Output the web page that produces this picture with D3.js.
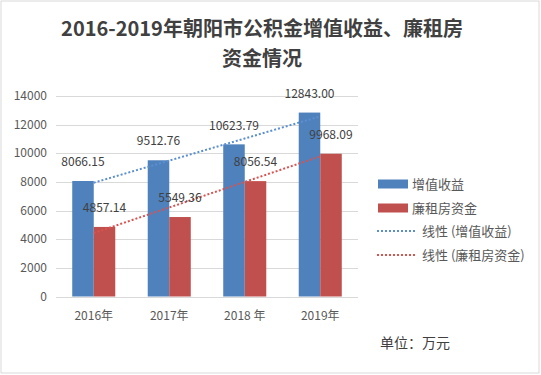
<!DOCTYPE html>
<html>
<head>
<meta charset="utf-8">
<script src="https://cdn.jsdelivr.net/npm/d3@7"></script>
<style>
  body { margin: 0; background: #fff; }
  svg text { font-family: "Noto Sans CJK SC", "Liberation Sans", sans-serif; }
</style>
</head>
<body>
<div id="chart"></div>
<script>
// data
const years = ["2016年", "2017年", "2018 年", "2019年"];
const seriesNames = ["增值收益", "廉租房资金"];
const gainValues = [8066.15, 9512.76, 10623.79, 12843.00];
const rentValues = [4857.14, 5549.36, 8056.54, 9968.09];
const yTicks = [0, 2000, 4000, 6000, 8000, 10000, 12000, 14000];
const colors = ["#4f81bd", "#c0504d"];
const trendColors = ["#5b8fd0", "#d9534f"];

const W = 541, H = 375;
const svg = d3.select("#chart").append("svg")
    .attr("width", W).attr("height", H);

// frame
svg.append("rect")
    .attr("x", 1).attr("y", 1).attr("width", W - 3).attr("height", H - 3)
    .attr("fill", "#fff").attr("stroke", "#d9d9d9");

// title
const title = svg.append("text")
    .attr("text-anchor", "middle")
    .attr("font-weight", "bold")
    .attr("font-size", 20)
    .attr("fill", "#404040");
title.append("tspan").attr("x", 262).attr("y", 36).text("2016-2019年朝阳市公积金增值收益、廉租房");
title.append("tspan").attr("x", 262).attr("y", 66).text("资金情况");

// scales
const x0 = d3.scaleBand().domain(years).range([56, 358])
    .paddingInner(0.43).paddingOuter(0.215);
const x1 = d3.scaleBand().domain(seriesNames).range([0, x0.bandwidth()]);
const y = d3.scaleLinear().domain([0, 14000]).range([296.5, 96]);

// grid
svg.append("g").selectAll("line").data(yTicks).join("line")
    .attr("x1", 56).attr("x2", 358)
    .attr("y1", d => Math.round(y(d)) + 0.5).attr("y2", d => Math.round(y(d)) + 0.5)
    .attr("stroke", "#d9d9d9");

// y axis labels
svg.append("g").selectAll("text").data(yTicks).join("text")
    .attr("x", 47).attr("y", d => y(d))
    .attr("dy", "0.35em")
    .attr("text-anchor", "end")
    .attr("font-size", 12)
    .attr("fill", "#595959")
    .text(d => d);

// x axis labels
svg.append("g").selectAll("text").data(years).join("text")
    .attr("x", d => x0(d) + x0.bandwidth() / 2).attr("y", 320)
    .attr("text-anchor", "middle")
    .attr("font-size", 12)
    .attr("fill", "#595959")
    .text(d => d);

const allSeries = [gainValues, rentValues];

// bars
allSeries.forEach((vals, si) => {
    svg.append("g").selectAll("rect").data(vals).join("rect")
        .attr("x", (d, i) => x0(years[i]) + x1(seriesNames[si]))
        .attr("y", d => y(d))
        .attr("width", x1.bandwidth())
        .attr("height", d => y(0) - y(d))
        .attr("fill", colors[si]);
});

// trend lines (least squares fit over categories 1..n)
function linFit(vals) {
    const xs = vals.map((d, i) => i + 1);
    const mx = d3.mean(xs), my = d3.mean(vals);
    let sxy = 0, sxx = 0;
    for (let i = 0; i < vals.length; i++) {
        sxy += (xs[i] - mx) * (vals[i] - my);
        sxx += (xs[i] - mx) * (xs[i] - mx);
    }
    const b = sxy / sxx;
    return xs.map(v => my + b * (v - mx));
}

const line = d3.line()
    .x((d, i) => x0(years[i]) + x0.bandwidth() / 2)
    .y(d => y(d));

allSeries.forEach((vals, si) => {
    svg.append("path")
        .attr("d", line(linFit(vals)))
        .attr("fill", "none")
        .attr("stroke", trendColors[si])
        .attr("stroke-width", 2)
        .attr("stroke-dasharray", "2,2");
});

// value labels
allSeries.forEach((vals, si) => {
    svg.append("g").selectAll("text").data(vals).join("text")
        .attr("x", (d, i) => x0(years[i]) + x1(seriesNames[si]) + x1.bandwidth() / 2)
        .attr("y", d => y(d) - 19)
        .attr("dy", "0.35em")
        .attr("text-anchor", "middle")
        .attr("font-family", "Liberation Sans, sans-serif")
        .attr("font-size", 12)
        .attr("fill", "#404040")
        .text(d => d.toFixed(2));
});

// legend
const legend = svg.append("g").attr("font-size", 13).attr("fill", "#595959");
seriesNames.forEach((name, i) => {
    const cy = 184 + i * 24;
    legend.append("rect")
        .attr("x", 378).attr("y", cy - 4.5).attr("width", 30).attr("height", 9)
        .attr("fill", colors[i]);
    legend.append("text")
        .attr("x", 412).attr("y", cy).attr("dy", "0.35em")
        .attr("fill", "#595959")
        .text(name);
});
seriesNames.forEach((name, i) => {
    const cy = 231 + i * 24;
    legend.append("line")
        .attr("x1", 377).attr("x2", 417).attr("y1", cy).attr("y2", cy)
        .attr("stroke", trendColors[i]).attr("stroke-width", 2)
        .attr("stroke-dasharray", "2,2");
    legend.append("text")
        .attr("x", 422).attr("y", cy).attr("dy", "0.35em")
        .attr("fill", "#595959")
        .text("线性 (" + name + ")");
});

// unit note
svg.append("text")
    .attr("x", 380).attr("y", 343).attr("dy", "0.35em")
    .attr("font-size", 14)
    .attr("fill", "#404040")
    .text("单位：万元");
</script>
</body>
</html>
